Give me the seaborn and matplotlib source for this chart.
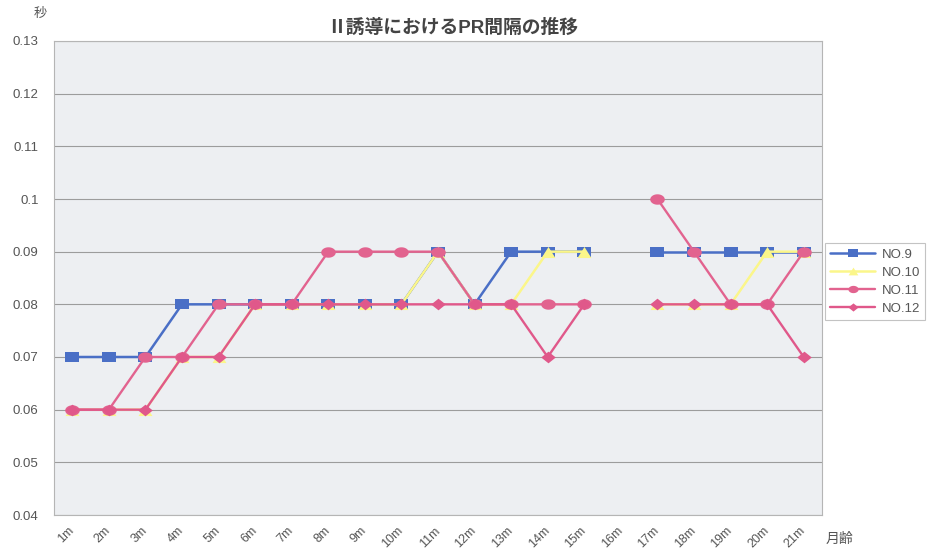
import numpy as np
import pandas as pd
import matplotlib
matplotlib.use("Agg")
import matplotlib.pyplot as plt
import matplotlib.transforms as mtransforms
from matplotlib.lines import Line2D
from matplotlib.ticker import FuncFormatter
import seaborn as sns

# ---- data -------------------------------------------------------------
months = ["1m", "2m", "3m", "4m", "5m", "6m", "7m", "8m", "9m", "10m", "11m",
          "12m", "13m", "14m", "15m", "16m", "17m", "18m", "19m", "20m", "21m"]

no9 = [0.07, 0.07, 0.07, 0.08, 0.08, 0.08, 0.08, 0.08, 0.08, 0.08, 0.09,
       0.08, 0.09, 0.09, 0.09, None, 0.09, 0.09, 0.09, 0.09, 0.09]
no10 = [0.06, 0.06, 0.06, 0.07, 0.07, 0.08, 0.08, 0.08, 0.08, 0.08, 0.09,
        0.08, 0.08, 0.09, 0.09, None, 0.08, 0.08, 0.08, 0.09, 0.09]
no11 = [0.06, 0.06, 0.07, 0.07, 0.08, 0.08, 0.08, 0.09, 0.09, 0.09, 0.09,
        0.08, 0.08, 0.08, 0.08, None, 0.10, 0.09, 0.08, 0.08, 0.09]
no12 = [0.06, 0.06, 0.06, 0.07, 0.07, 0.08, 0.08, 0.08, 0.08, 0.08, 0.08,
        0.08, 0.08, 0.07, 0.08, None, 0.08, 0.08, 0.08, 0.08, 0.07]

series_names = ["NO.9", "NO.10", "NO.11", "NO.12"]
series_values = [no9, no10, no11, no12]

title = "Ⅱ誘導におけるPR間隔の推移"
y_unit = "秒"
x_unit = "月齢"

# ---- marker shapes (slightly wide, like the spreadsheet chart) -------
t = np.linspace(0, 2 * np.pi, 41)
ellipse = np.column_stack([1.4 * np.cos(t), np.sin(t)])
rect = np.array([(-1.4, -1), (1.4, -1), (1.4, 1), (-1.4, 1), (-1.4, -1)])
tri = np.array([(-1.25, -1), (1.25, -1), (0, 1), (-1.25, -1)])
diamond = np.array([(-1.25, 0), (0, 1), (1.25, 0), (0, -1), (-1.25, 0)])

styles = {
    "NO.9":  dict(color="#4a6fc6", marker=rect, ms=10.5, lw=1.8),
    "NO.10": dict(color="#fbf68a", marker=tri, ms=10.0, lw=1.8),
    "NO.11": dict(color="#e2638f", marker=ellipse, ms=10.5, lw=1.7),
    "NO.12": dict(color="#e0588a", marker=diamond, ms=10.5, lw=1.7),
}

# long-form table; a missing month splits a series into separate units
rows = []
for name, vals in zip(series_names, series_values):
    seg = 0
    for pos, v in enumerate(vals, start=1):
        if v is None:
            seg += 1
            continue
        rows.append({"pos": pos, "value": v, "series": name,
                     "seg": f"{name}-{seg}"})
df = pd.DataFrame(rows)

# ---- figure -----------------------------------------------------------
sns.set_style("white")
plt.rcParams["font.family"] = ["Liberation Sans", "Noto Sans CJK JP", "DejaVu Sans"]

W, H = 932, 552
fig = plt.figure(figsize=(W / 100, H / 100), dpi=100, facecolor="white")
ax = fig.add_axes([54 / W, 37 / H, 768 / W, 474 / H])
ax.set_facecolor("#edeff2")

for name in series_names:
    st = styles[name]
    sub = df[df["series"] == name]
    sns.lineplot(data=sub, x="pos", y="value", units="seg", estimator=None,
                 color=st["color"], marker=st["marker"], markersize=st["ms"],
                 markeredgewidth=0, linewidth=st["lw"], legend=False, ax=ax)

ax.set_xlim(0.5, len(months) + 0.5)
ax.set_ylim(0.04, 0.13)
ax.set_yticks(np.arange(0.04, 0.1301, 0.01))
ax.yaxis.set_major_formatter(FuncFormatter(lambda v, p: f"{v:.2f}".rstrip("0")))
ax.yaxis.grid(True, color="#9c9c9c", linewidth=0.8)
ax.xaxis.grid(False)
ax.set_xlabel("")
ax.set_ylabel("")

ax.set_xticks(range(1, len(months) + 1))
ax.set_xticklabels(months, rotation=45, ha="right", va="center",
                   rotation_mode="anchor", fontsize=9, color="#555555")
shift = mtransforms.ScaledTranslation(-0.16, 0, fig.dpi_scale_trans)
for lab in ax.get_xticklabels():
    lab.set_transform(lab.get_transform() + shift)
ax.tick_params(axis="x", length=3, width=0.6, color="#b0b0b0", pad=7)
ax.tick_params(axis="y", length=0, pad=11, labelsize=9.5, labelcolor="#555555")

for sp in ax.spines.values():
    sp.set_color("#b5b5b5")
    sp.set_linewidth(0.8)

# ---- text -------------------------------------------------------------
fig.text(453 / W, 1 - 28 / H, title, ha="center", va="center",
         fontsize=13.5, fontweight="bold", color="#444444")
fig.text(40 / W, 1 - 14 / H, y_unit, ha="center", va="center",
         fontsize=9.5, color="#555555")
fig.text(826 / W, 1 - 539 / H, x_unit, ha="left", va="center",
         fontsize=10, color="#555555")

# ---- legend -----------------------------------------------------------
handles = [Line2D([0], [0], color=styles[n]["color"], marker=styles[n]["marker"],
                  markersize=styles[n]["ms"] * 0.7, markeredgewidth=0,
                  linewidth=styles[n]["lw"]) for n in series_names]
leg = ax.legend(handles, series_names, loc="upper left",
                bbox_to_anchor=(825 / W, 1 - 243 / H),
                bbox_transform=fig.transFigure, frameon=True, fancybox=False,
                edgecolor="#b5b5b5", facecolor="white", fontsize=9.5,
                handlelength=3.4, handletextpad=0.5, labelspacing=0.45,
                borderpad=0.4, borderaxespad=0)
leg.get_frame().set_linewidth(0.8)
for txt in leg.get_texts():
    txt.set_color("#555555")

fig.savefig("out.png", dpi=100, facecolor="white")
